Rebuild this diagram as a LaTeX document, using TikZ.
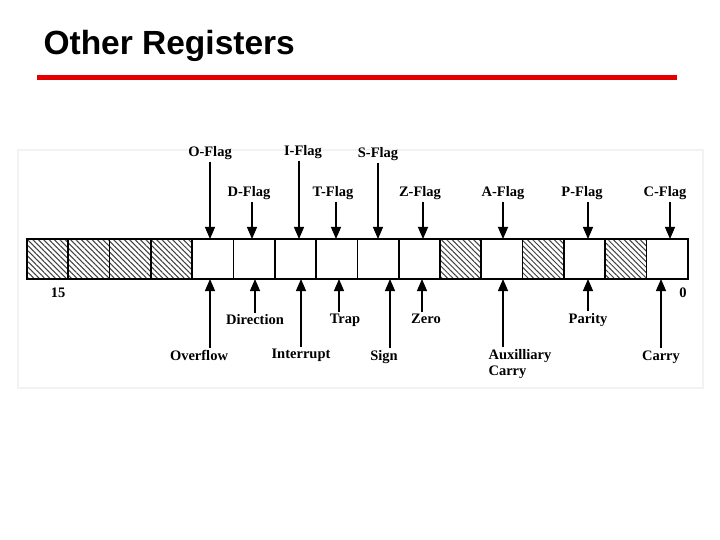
\documentclass[tikz,border=0pt]{standalone}
\usepackage{fontspec}
\usepackage{tikz}
\usetikzlibrary{arrows.meta,patterns.meta}
\newfontfamily\labelfont{Liberation Serif}
\newfontfamily\titlefont{Liberation Sans}

\begin{document}
\begin{tikzpicture}[
    x=1pt, y=-1pt,
    bitbox/.style={rectangle, draw, line width=1.7pt, minimum width=41.3pt,
                   minimum height=40pt, inner sep=0pt, outer sep=0pt},
    unused/.style={bitbox, pattern={Lines[angle=-45,distance=3.8pt,line width=1pt]},
                   pattern color=black!75},
    flag/.style={font=\labelfont\bfseries\fontsize{14.5}{15.5}\selectfont, inner sep=2pt},
    desc/.style={flag},
    arr/.style={-{Triangle[length=12pt,width=10pt]}, line width=1.2pt}
]
    \useasboundingbox (0,0) rectangle (720,540);
    \draw[gray!10, line width=2pt] (18,150) rectangle (703,388);

    \node[anchor=west, font=\titlefont\bfseries\fontsize{33.5}{37}\selectfont]
        (title) at (40,46) {Other Registers};
    \draw[red!90!black, line width=5pt] (37,78) -- (677,78);

    \foreach \i in {0,...,15} {
        \pgfmathtruncatemacro\b{15-\i}
        \ifnum\b>11 \def\st{unused}\else
        \ifnum\b=5 \def\st{unused}\else
        \ifnum\b=3 \def\st{unused}\else
        \ifnum\b=1 \def\st{unused}\else
        \def\st{bitbox}\fi\fi\fi\fi
        \node[\st] (b\b) at (47.65+41.3*\i, 259) {};
    }

    \node[desc] (n15) at (58,293) {15};
    \node[desc] (n0)  at (683,293) {0};

    \node[flag] (oflag) at (210,153) {O-Flag};
    \node[flag] (dflag) at (249,193) {D-Flag};
    \node[flag] (iflag) at (303,152) {I-Flag};
    \node[flag] (tflag) at (333,193) {T-Flag};
    \node[flag] (sflag) at (378,154) {S-Flag};
    \node[flag] (zflag) at (420,193) {Z-Flag};
    \node[flag] (aflag) at (503,193) {A-Flag};
    \node[flag] (pflag) at (582,193) {P-Flag};
    \node[flag] (cflag) at (665,193) {C-Flag};

    \draw[arr] (oflag) -- (oflag |- b11.north);
    \draw[arr] ([xshift=3]dflag.south) -- ([xshift=3]dflag.south |- b10.north);
    \draw[arr] ([xshift=-4]iflag.south) -- ([xshift=-4]iflag.south |- b9.north);
    \draw[arr] ([xshift=3]tflag.south) -- ([xshift=3]tflag.south |- b8.north);
    \draw[arr] (sflag) -- (sflag |- b7.north);
    \draw[arr] ([xshift=3]zflag.south) -- ([xshift=3]zflag.south |- b6.north);
    \draw[arr] (aflag) -- (aflag |- b4.north);
    \draw[arr] ([xshift=6]pflag.south) -- ([xshift=6]pflag.south |- b2.north);
    \draw[arr] ([xshift=5]cflag.south) -- ([xshift=5]cflag.south |- b0.north);

    \node[desc] (ovf)  at (199,355) {Overflow};
    \node[desc] (dir)  at (255,320) {Direction};
    \node[desc] (intr) at (301,355) {Interrupt};
    \node[desc] (trap) at (345,320) {Trap};
    \node[desc] (sign) at (384,357) {Sign};
    \node[desc] (zero) at (426,319) {Zero};
    \node[desc, align=left] (aux) at (520,364) {Auxilliary\\Carry};
    \node[desc] (par)  at (588,320) {Parity};
    \node[desc] (cry)  at (661,357) {Carry};

    \draw[arr] ([xshift=11]ovf.north) -- ([xshift=11]ovf.north |- b11.south);
    \draw[arr] (dir) -- (dir |- b10.south);
    \draw[arr] (intr) -- (intr |- b9.south);
    \draw[arr] ([xshift=-6]trap.north) -- ([xshift=-6]trap.north |- b8.south);
    \draw[arr] ([xshift=6]sign.north) -- ([xshift=6]sign.north |- b7.south);
    \draw[arr] ([xshift=-4]zero.north) -- ([xshift=-4]zero.north |- b6.south);
    \draw[arr] ([xshift=-17]aux.north) -- ([xshift=-17]aux.north |- b4.south);
    \draw[arr] (par) -- (par |- b2.south);
    \draw[arr] (cry) -- (cry |- b0.south);
\end{tikzpicture}
\end{document}
